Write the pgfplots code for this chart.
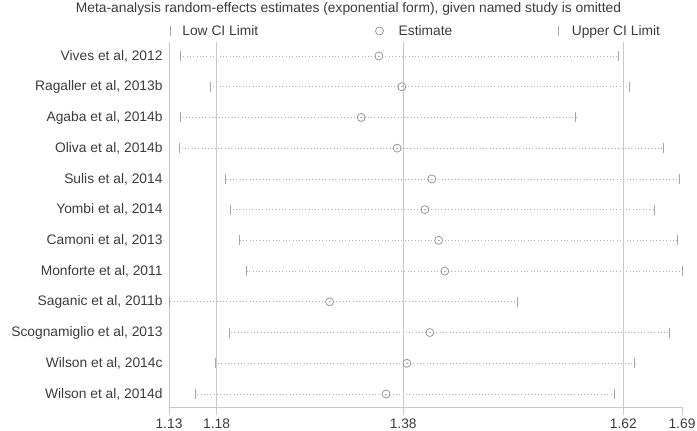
\documentclass[border=0pt]{standalone}
\usepackage{fontspec}
\setmainfont{Liberation Sans}
\usepackage{pgfplots}
\usepackage{pgfplotstable}
\pgfplotsset{compat=1.18}
\definecolor{txt}{RGB}{60,60,60}
\definecolor{refl}{RGB}{200,200,200}
\definecolor{dotc}{RGB}{175,175,175}
\definecolor{mk}{RGB}{165,165,165}
\definecolor{est}{RGB}{150,150,150}
\pgfplotstableread{
row L E U
1 1.1375 1.3550 1.6170
2 1.1706 1.3801 1.6286
3 1.1383 1.3357 1.5703
4 1.1368 1.3750 1.6657
5 1.1870 1.4129 1.6832
6 1.1929 1.4053 1.6563
7 1.2020 1.4203 1.6810
8 1.2104 1.4271 1.6865
9 1.1255 1.3011 1.5062
10 1.1911 1.4107 1.6727
11 1.1758 1.3856 1.6348
12 1.1542 1.3630 1.6129
}\data
\newcommand{\fs}{\fontsize{13.8bp}{16bp}\selectfont}
\begin{document}
\begin{tikzpicture}
\path[use as bounding box] (0,0) rectangle (697bp,431bp);
\begin{axis}[
  at={(169bp,24bp)}, anchor=south west,
  scale only axis, width=513bp, height=365bp,
  xmin=1.1255, xmax=1.6865, ymin=0.5444, ymax=12.423, y dir=reverse,
  clip=false,
  axis x line*=bottom, axis y line*=left,
  axis line style={-, refl, line width=1bp},
  xtick={1.1255,1.1776,1.3816,1.6224,1.6865},
  xticklabels={1.13,1.18,1.38,1.62,1.69},
  ytick={1,...,12},
  yticklabels={{Vives et al, 2012\hspace{11bp}}, {Ragaller et al, 2013b\hspace{3bp}}, {Agaba et al, 2014b\hspace{3bp}}, {Oliva et al, 2014b\hspace{3bp}}, {Sulis et al, 2014\hspace{10bp}}, {Yombi et al, 2014\hspace{8bp}}, {Camoni et al, 2013\hspace{9bp}}, {Monforte et al, 2011\hspace{10bp}}, {Saganic et al, 2011b\hspace{1bp}}, {Scognamiglio et al, 2013\hspace{8bp}}, {Wilson et al, 2014c\hspace{1bp}}, {Wilson et al, 2014d}},
  tick align=outside, major tick length=8bp,
  x tick style={refl, line width=1bp},
  y tick style={draw=none},
  tick label style={font=\fs, text=txt},
  yticklabel style={xshift=5bp},
  xticklabel style={inner ysep=1bp, yshift=-3bp},
  title={Meta-analysis random-effects estimates (exponential form), given named study is omitted},
  title style={at={(axis description cs:0.3499,1.074)}, anchor=center, font=\fs, text=txt},
  legend columns=3,
  legend style={draw=none, fill=none, inner sep=0pt, outer sep=0pt,
    at={(axis description cs:-0.00975,1.0301)}, anchor=west,
    font=\fs, text=txt, nodes={inner xsep=0pt, inner ysep=2bp},
    /tikz/column 1/.style={column sep=6bp},
    /tikz/column 2/.style={column sep=115bp},
    /tikz/column 3/.style={column sep=13bp},
    /tikz/column 4/.style={column sep=100bp},
    /tikz/column 5/.style={column sep=7bp}},
  legend image code/.code={\path (-6bp,0bp) (6bp,0bp); \draw[#1] plot coordinates {(0bp,0bp)};},
]
\addplot[draw=none, mark=none, forget plot,
  error bars/.cd, x dir=both, x explicit, error mark=none,
  error bar style={dotc, line width=0.8bp, dash pattern=on 0.8bp off 2.5bp}]
  table[x=E, y=row, x error plus expr=\thisrow{U}-\thisrow{E}, x error minus expr=\thisrow{E}-\thisrow{L}] {\data};
\addplot[refl, line width=1bp, forget plot] coordinates {(1.1776,0.5444) (1.1776,12.423)};
\addplot[refl, line width=1bp, forget plot] coordinates {(1.3816,0.5444) (1.3816,12.423)};
\addplot[refl, line width=1bp, forget plot] coordinates {(1.6224,0.5444) (1.6224,12.423)};
\addplot[only marks, mark=|, mark size=5bp, mark options={mk, line width=0.9bp}] table[x=L, y=row] {\data};
\addlegendentry{Low CI Limit}
\addplot[only marks, mark=o, mark size=4bp, mark options={est, line width=0.8bp}] table[x=E, y=row] {\data};
\addlegendentry{Estimate}
\addplot[only marks, mark=|, mark size=5bp, mark options={mk, line width=0.9bp}] table[x=U, y=row] {\data};
\addlegendentry{Upper CI Limit}
\end{axis}
\end{tikzpicture}
\end{document}
